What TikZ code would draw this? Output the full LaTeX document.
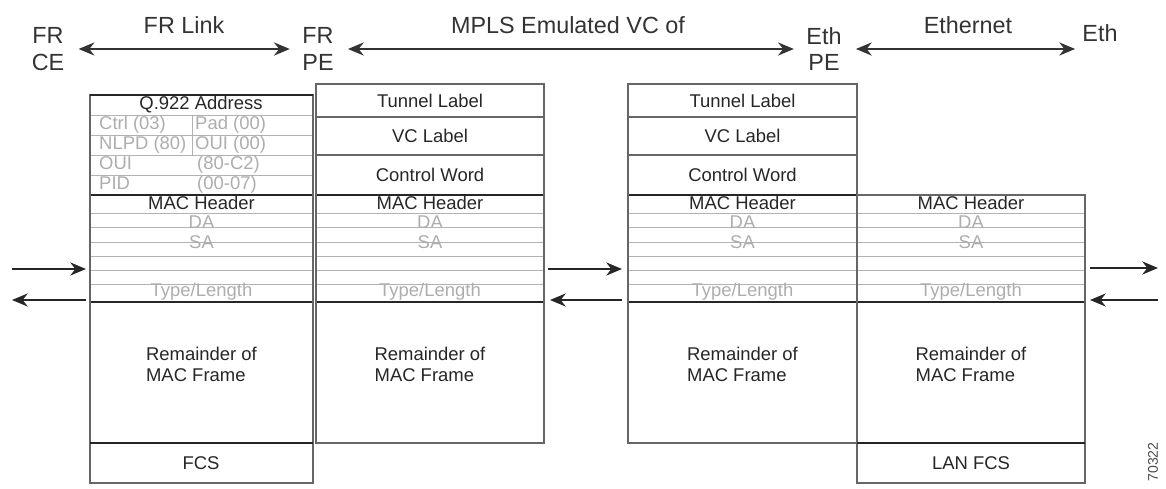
\documentclass[tikz,border=0pt]{standalone}
\usepackage{fontspec}
\setmainfont{Liberation Sans}
\usetikzlibrary{arrows.meta,positioning}
\tikzset{
  %Define standard arrow tip
  >={Stealth[length=9pt,width=7.5pt]},
  %Define style for header labels
  kopf/.style={
    font=\fontsize{13.3}{15}\selectfont,
    text=black!80,
    align=center,
    inner sep=0pt},
  %Define styles for field texts
  feld/.style={font=\fontsize{10.5}{12}\selectfont, text=black!85, inner sep=0.5pt},
  grau/.style={font=\fontsize{10.5}{12}\selectfont, text=black!32, inner sep=0.5pt},
  graul/.style={grau, anchor=west, text height=7.5pt, text depth=2.5pt},
  % Define line styles
  rahmen/.style={draw=black!60, line width=0.8pt},
  trenn/.style={draw=black!85, line width=0.9pt},
  fein/.style={draw=black!30, line width=0.5pt},
  % Define arrow style
  pil/.style={
    <->,
    draw=black!80,
    line width=1pt,
    shorten <=8pt,
    shorten >=7pt,},
  sp/.style={->, draw=black!85, line width=0.8pt}
}

\begin{document}
\begin{tikzpicture}[x=0.02cm,y=-0.02cm]
  \useasboundingbox (0,0) rectangle (1166,489);

  % header
  \node[kopf] (frce) at (48,49) {FR\\CE};
  \node[kopf] (frlink) at (184,25) {FR Link};
  \node[kopf] (frpe) at (318,49) {FR\\PE};
  \node[kopf] (mpls) at (568,25) {MPLS Emulated VC of};
  \node[kopf] (ethpe) at (824,49) {Eth\\PE};
  \node[kopf] (ether) at (968,25) {Ethernet};
  \node[kopf] (eth) at (1100,33) {Eth};
  \draw[pil] (frce) -- (frpe);
  \draw[pil] (frpe) -- (ethpe);
  \draw[pil,shorten >=4pt] (ethpe) -- (eth.west |- ethpe);

  % FR frame, header part
  \foreach \y in {115,135,155,175} \draw[fein] (90,\y) -- (313,\y);
  \draw[fein] (192,115) -- (192,155);
  \node[feld] (q922) at (201,105) {Q.922 Address};
  \node[graul] (ctrl) at (98,125) {Ctrl (03)};
  \node[graul] (pad) at (194,125) {Pad (00)};
  \node[graul] (nlpd) at (98,145) {NLPD (80)};
  \node[graul] (ouia) at (194,145) {OUI (00)};
  \node[graul] (ouib) at (98,165) {OUI};
  \node[graul] (ouiv) at (196,165) {(80-C2)};
  \node[graul] (pid) at (98,185) {PID};
  \node[graul] (pidv) at (196,185) {(00-07)};

  % MPLS labels
  \foreach \xa/\xb/\n in {316/544/b, 628/857/c}{
    \draw[rahmen] (\xa,117) -- (\xb,117);
    \draw[rahmen] (\xa,155) -- (\xb,155);
    \node[feld] (tunnel\n) at ({(\xa+\xb)/2},101) {Tunnel Label};
    \node[feld] (vc\n) at ({(\xa+\xb)/2},136) {VC Label};
    \node[feld] (cw\n) at ({(\xa+\xb)/2},175) {Control Word};
  }

  % MAC header in every frame
  \foreach \xa/\xb/\n in {90/313/a, 316/544/b, 628/857/c, 857/1085/d}{
    \foreach \y in {213,227,242,256,270,284} \draw[fein] (\xa,\y) -- (\xb,\y);
    \draw[trenn] (\xa,195) -- (\xb,195);
    \draw[trenn] (\xa,302) -- (\xb,302);
    \node[feld] (mac\n) at ({(\xa+\xb)/2},203) {MAC Header};
    \node[grau] (da\n) at ({(\xa+\xb)/2},222) {DA};
    \node[grau] (sa\n) at ({(\xa+\xb)/2},242) {SA};
    \node[grau] (type\n) at ({(\xa+\xb)/2},292) {Type/Length};
    \node[feld,align=left] (rest\n) at ({(\xa+\xb)/2},364) {Remainder of\\MAC Frame};
  }

  % outlines
  \draw[rahmen] (90,95) rectangle (313,483);
  \draw[trenn] (90,95) -- (313,95);
  \draw[rahmen] (316,84) rectangle (544,443);
  \draw[rahmen] (628,84) rectangle (857,443);
  \draw[rahmen] (857,195) rectangle (1085,483);
  \draw[trenn] (90,443) -- (313,443);
  \draw[trenn] (857,443) -- (1085,443);
  \node[feld] (fcs) at (201,463) {FCS};
  \node[feld] (lanfcs) at (971,463) {LAN FCS};

  % traffic arrows
  \coordinate (lin) at (12,269);   \coordinate (lout) at (86,269);
  \coordinate (lbin) at (86,300);  \coordinate (lbout) at (12,300);
  \coordinate (min) at (548,269);  \coordinate (mout) at (622,269);
  \coordinate (mbin) at (622,300); \coordinate (mbout) at (550,300);
  \coordinate (rin) at (1090,268); \coordinate (rout) at (1158,268);
  \coordinate (rbin) at (1158,300);\coordinate (rbout) at (1090,300);
  \draw[sp] (lin) -- (lout);
  \draw[sp] (lbin) -- (lbout);
  \draw[sp] (min) -- (mout);
  \draw[sp] (mbin) -- (mbout);
  \draw[sp] (rin) -- (rout);
  \draw[sp] (rbin) -- (rbout);

  \node[font=\fontsize{8}{9}\selectfont,text=black!70,rotate=90] (nr) at (1153,462) {70322};
\end{tikzpicture}
\end{document}
